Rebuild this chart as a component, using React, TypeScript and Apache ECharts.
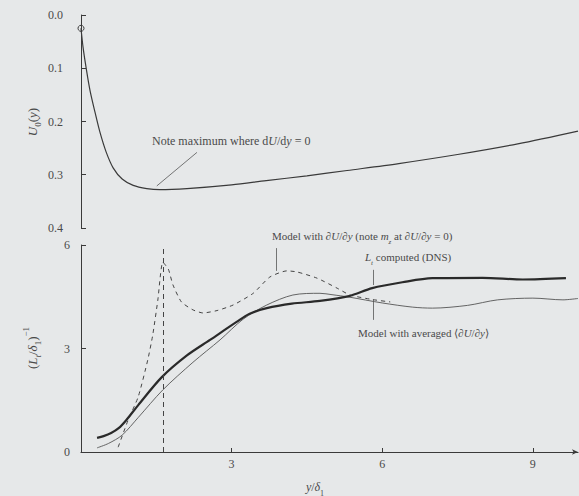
import React, { useEffect, useRef } from "react";
import * as echarts from "echarts";

// Top panel: U0(y)
const uX = [0, 0.04, 0.1, 0.18, 0.28, 0.38, 0.5, 0.64, 0.82, 1.04, 1.31, 1.57, 2.11, 3.0, 3.69, 4.5, 5.3, 6.33, 7.5, 8.7, 9.9];
const uY = [0.025, 0.06, 0.098, 0.142, 0.183, 0.221, 0.257, 0.287, 0.308, 0.32, 0.326, 0.328, 0.326, 0.319, 0.311, 0.302, 0.292, 0.279, 0.262, 0.242, 0.218];

// Bottom panel: L_t computed (DNS)
const dnsX = [0.32, 0.45, 0.6, 0.75, 0.9, 1.14, 1.61, 2.11, 2.57, 3.1, 3.35, 3.7, 4.2, 4.76, 5.34, 5.8, 6.4, 7.0, 8.0, 8.8, 9.66];
const dnsY = [0.41, 0.46, 0.55, 0.69, 0.92, 1.36, 2.17, 2.8, 3.25, 3.77, 4.0, 4.17, 4.3, 4.38, 4.52, 4.75, 4.92, 5.04, 5.05, 5.0, 5.04];

// Model with averaged <dU/dy>
const avgX = [0.32, 0.55, 0.82, 1.14, 1.63, 2.23, 2.77, 3.23, 3.7, 4.22, 4.76, 5.0, 5.34, 6.0, 6.6, 7.0, 7.7, 8.3, 9.0, 9.6, 9.9];
const avgY = [0.12, 0.25, 0.49, 1.0, 1.8, 2.6, 3.25, 3.85, 4.26, 4.55, 4.6, 4.56, 4.49, 4.32, 4.2, 4.17, 4.25, 4.41, 4.46, 4.41, 4.45];

// Model with dU/dy
const modX = [0.74, 0.94, 1.14, 1.33, 1.43, 1.53, 1.63, 1.74, 1.83, 2.0, 2.23, 2.43, 2.71, 3.03, 3.43, 3.76, 4.1, 4.3, 4.7, 5.1, 5.36, 5.8, 6.16];
const modY = [0.14, 0.93, 1.6, 2.67, 3.4, 4.4, 5.5, 5.3, 4.85, 4.35, 4.12, 4.03, 4.1, 4.26, 4.6, 5.07, 5.25, 5.22, 5.04, 4.75, 4.55, 4.42, 4.35];

const peakX = 1.63;
const xTicks = [3, 6, 9];

const zip = (xs: number[], ys: number[]) => xs.map((x, i) => [x, ys[i]]);

const FONT = "Liberation Serif";
const TXT = "#4a4a4a";
const LINE = "#3a3a3a";

const richBase = (size: number) => ({
  n: { fontSize: size, fontFamily: FONT, fill: TXT, lineHeight: size + 8 },
  i: { fontSize: size, fontFamily: FONT, fontStyle: "italic", fill: TXT, lineHeight: size + 8 },
  sub: { fontSize: size - 4, fontFamily: FONT, fontStyle: "italic", fill: TXT, verticalAlign: "bottom", lineHeight: size - 2 },
  subn: { fontSize: size - 4, fontFamily: FONT, fill: TXT, verticalAlign: "bottom", lineHeight: size - 2 },
  sup: { fontSize: size - 4, fontFamily: FONT, fill: TXT, verticalAlign: "top", lineHeight: size - 2 },
});

export default function App() {
  const ref = useRef<HTMLDivElement>(null);
  useEffect(() => {
    if (!ref.current) return;
    const chart = echarts.init(ref.current, null, { renderer: "svg" });
    const leader = (a: number[], b: number[]) => [{ coord: a }, { coord: b }];
    const mlStyle = { color: "#555", width: 0.8, type: "solid" as const };
    const txt = (x: number, y: number, text: string, size: number, extra: any = {}) => ({
      type: "text", x, y, ...extra,
      style: { text, rich: richBase(size), fill: TXT, fontFamily: FONT, fontSize: size, align: extra.align || "left", verticalAlign: "middle" },
    });
    chart.setOption({
      animation: false,
      backgroundColor: "#e6e8e9",
      textStyle: { fontFamily: FONT },
      grid: [
        { left: 81, top: 15, width: 497, height: 213 },
        { left: 81, top: 245, width: 497, height: 207 },
      ],
      xAxis: [
        {
          gridIndex: 0, type: "value", min: 0, max: 9.9,
          axisLine: { show: false }, axisTick: { show: false }, axisLabel: { show: false }, splitLine: { show: false },
        },
        {
          gridIndex: 1, type: "value", min: 0, max: 9.9,
          axisLine: { show: true, lineStyle: { color: LINE, width: 1.2 }, symbol: ["none", "arrow"], symbolSize: [4, 6] },
          axisTick: { show: true, inside: true, length: 4, customValues: xTicks, lineStyle: { color: LINE } },
          axisLabel: { show: true, customValues: xTicks, color: TXT, fontFamily: FONT, fontSize: 12, margin: 6 },
          splitLine: { show: false },
        },
      ],
      yAxis: [
        {
          gridIndex: 0, type: "value", inverse: true, min: 0, max: 0.4, interval: 0.1,
          axisLine: { show: true, lineStyle: { color: LINE, width: 1 } },
          axisTick: { show: true, inside: true, length: 5, lineStyle: { color: LINE } },
          axisLabel: { color: TXT, fontFamily: FONT, fontSize: 12, margin: 18, formatter: (v: number) => v.toFixed(1) },
          splitLine: { show: false },
        },
        {
          gridIndex: 1, type: "value", min: 0, max: 6, interval: 3,
          axisLine: { show: true, lineStyle: { color: LINE, width: 1 } },
          axisTick: { show: true, inside: true, length: 5, lineStyle: { color: LINE } },
          axisLabel: { color: TXT, fontFamily: FONT, fontSize: 12, margin: 11 },
          splitLine: { show: false },
        },
      ],
      series: [
        {
          type: "line", xAxisIndex: 0, yAxisIndex: 0, data: zip(uX, uY), smooth: 0.3,
          showSymbol: false, symbol: "none",
          lineStyle: { color: LINE, width: 1.2 },
          markLine: { silent: true, symbol: "none", label: { show: false }, lineStyle: mlStyle, data: [leader([1.51, 0.321], [2.31, 0.258])] },
          markPoint: {
            symbol: "circle", symbolSize: 6, label: { show: false },
            itemStyle: { color: "transparent", borderColor: LINE, borderWidth: 1 },
            data: [{ coord: [uX[0], uY[0]] }],
          },
        },
        {
          type: "line", xAxisIndex: 1, yAxisIndex: 1, data: zip(modX, modY), smooth: 0.2,
          symbol: "none", lineStyle: { color: "#444", width: 1, type: [4, 4] },
          markLine: {
            silent: true, symbol: "none", label: { show: false },
            data: [
              { xAxis: peakX, lineStyle: { color: "#444", width: 1, type: [5, 4] } },
              leader([3.88, 5.91], [3.88, 5.25]),
            ],
            lineStyle: mlStyle,
          },
        },
        {
          type: "line", xAxisIndex: 1, yAxisIndex: 1, data: zip(avgX, avgY), smooth: 0.3,
          symbol: "none", lineStyle: { color: "#555", width: 0.9 },
          markLine: { silent: true, symbol: "none", label: { show: false }, lineStyle: mlStyle, data: [leader([5.82, 4.41], [5.82, 3.83])] },
        },
        {
          type: "line", xAxisIndex: 1, yAxisIndex: 1, data: zip(dnsX, dnsY), smooth: 0.3,
          symbol: "none", lineStyle: { color: "#2a2a2a", width: 2.2 },
          markLine: { silent: true, symbol: "none", label: { show: false }, lineStyle: mlStyle, data: [leader([5.82, 5.28], [5.82, 4.84])] },
        },
      ],
      graphic: [
        txt(32, 122, "{i|U}{subn|0}{n|(}{i|y}{n|)}", 13, { rotation: Math.PI / 2, align: "center" }),
        txt(32, 348, "{n|(}{i|L}{sub|t}{n|/}{i|δ}{subn|1}{n|)}{sup|−1}", 13, { rotation: Math.PI / 2, align: "center" }),
        txt(315, 487, "{i|y}{n|/}{i|δ}{subn|1}", 12, { align: "center" }),
        txt(152, 141, "{n|Note maximum where d}{i|U}{n|/d}{i|y}{n| = 0}", 12),
        txt(272, 236, "{n|Model with ∂}{i|U}{n|/∂}{i|y}{n| (note }{i|m}{sub|z}{n| at ∂}{i|U}{n|/∂}{i|y}{n| = 0)}", 11),
        txt(365, 257, "{i|L}{sub|t}{n| computed (DNS)}", 11),
        txt(358, 333, "{n|Model with averaged ⟨∂}{i|U}{n|/∂}{i|y}{n|⟩}", 11),
      ],
    });
    return () => chart.dispose();
  }, []);
  return <div ref={ref} style={{ position: "fixed", left: 0, top: 0, width: 579, height: 496 }} />;
}
